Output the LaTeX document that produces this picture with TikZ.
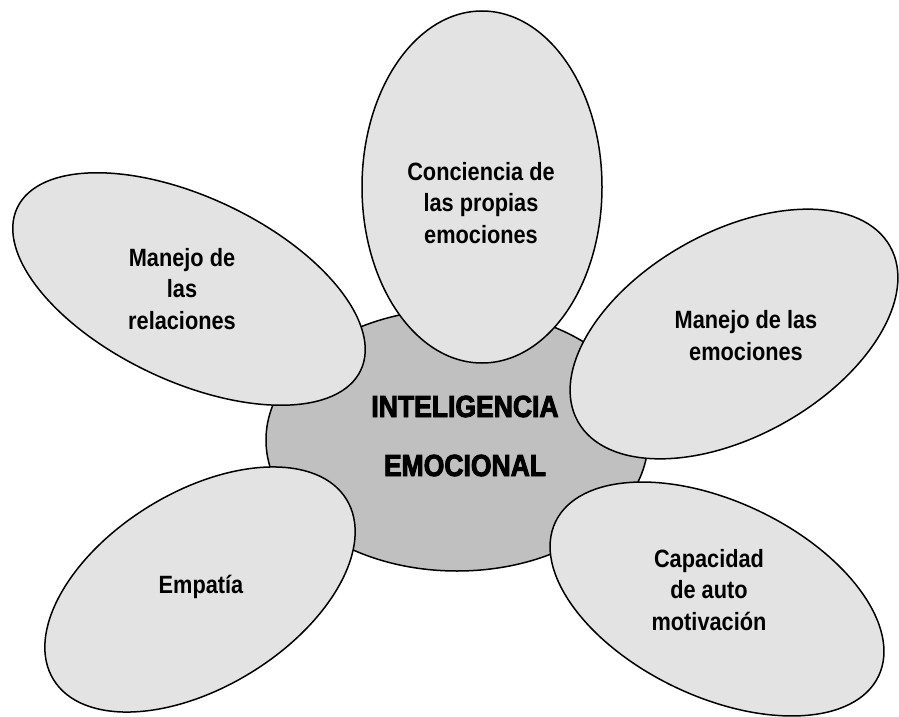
\documentclass[tikz,border=0pt]{standalone}
\usepackage{fontspec}
\setmainfont{Liberation Sans}
\newfontfamily\petalfont{Liberation Sans}[FakeStretch=0.87]
\newfontfamily\corefont{Liberation Sans}[FakeStretch=0.87,FakeBold=3]
\usetikzlibrary{shapes.geometric}
\definecolor{petalGray}{HTML}{E3E3E3}
\definecolor{coreGray}{HTML}{C0C0C0}
\begin{document}
\begin{tikzpicture}[x=1pt,y=-1pt,
  core/.style={ellipse, draw=black, line width=1.5pt, fill=coreGray, inner sep=0pt},
  petal/.style={ellipse, draw=black, line width=1.5pt, fill=petalGray, inner sep=0pt},
  ptext/.style={align=center, font=\petalfont\bfseries\fontsize{25}{31.5}\selectfont, inner sep=0pt},
  ctext/.style={align=center, font=\corefont\bfseries\fontsize{30.5}{59}\selectfont, inner sep=0pt}]
\fill[white] (0,0) rectangle (899,717);
\useasboundingbox (0,0) rectangle (899,717);
\node[core, minimum width=382pt, minimum height=262pt] (core) at (457,440) {};
\node[petal, minimum width=240pt, minimum height=352pt] (p1) at (482,187) {};
\node[petal, minimum width=380pt, minimum height=184pt, rotate=-25.3] (p2) at (189,289) {};
\node[petal, minimum width=358pt, minimum height=204pt, rotate=29.3] (p3) at (734,334) {};
\node[petal, minimum width=344pt, minimum height=195pt, rotate=31.6] (p4) at (200,589.5) {};
\node[petal, minimum width=358pt, minimum height=195pt, rotate=-25.5] (p5) at (717,599) {};
\node[ctext] (t0) at (465,436) {INTELIGENCIA\\EMOCIONAL};
\node[ptext] (t1) at (481,203) {Conciencia de\\las propias\\emociones};
\node[ptext] (t2) at (182,289) {Manejo de\\las\\relaciones};
\node[ptext] (t3) at (746,335.5) {Manejo de las\\emociones};
\node[ptext] (t4) at (201,587) {Empatía};
\node[ptext] (t5) at (709,590) {Capacidad\\de auto\\motivación};
\end{tikzpicture}
\end{document}
